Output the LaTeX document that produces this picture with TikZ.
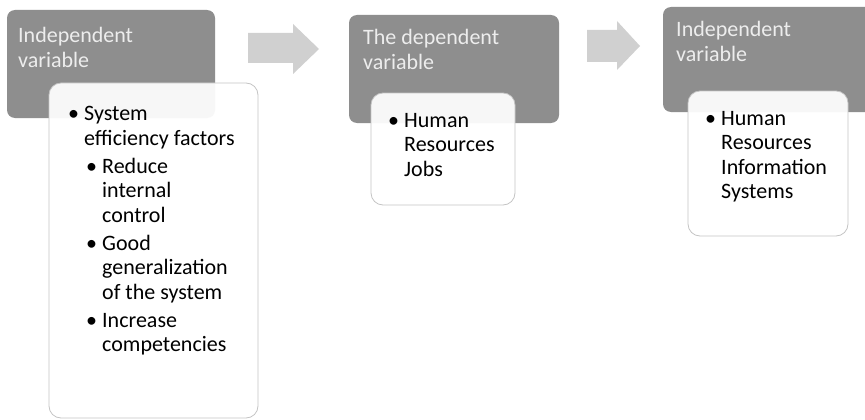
\documentclass[tikz,border=0pt]{standalone}
\usepackage{fontspec}
\setmainfont{Carlito}
\definecolor{boxgray}{HTML}{8E8E8E}
\definecolor{titlecol}{HTML}{EDEDED}
\definecolor{arrowgray}{HTML}{D0D0D0}
\definecolor{edgegray}{HTML}{C4C4C4}
\tikzset{
  graybox/.style={fill=boxgray, rounded corners=8pt},
  whitebox/.style={fill=white, fill opacity=0.93, draw=edgegray, line width=0.8pt, rounded corners=12pt},
  titletext/.style={anchor=base west, inner sep=0pt, text=titlecol, font=\fontsize{22}{24.5}\selectfont},
  bodytext/.style={anchor=base west, inner sep=0pt, text=black, font=\fontsize{22}{24.5}\selectfont},
  blockarrow/.style={fill=arrowgray}
}
\begin{document}
\begin{tikzpicture}[x=1pt,y=-1pt]
\clip (0,0) rectangle (865,420);
\fill[white] (0,0) rectangle (865,420);
% block arrows
\fill[blockarrow] (248,33) -- (293,33) -- (293,24) -- (319,49) -- (293,74) -- (293,63) -- (248,63) -- cycle;
\fill[blockarrow] (587,30) -- (617,30) -- (617,21) -- (640,46) -- (617,70) -- (617,62) -- (587,62) -- cycle;
% gray title boxes
\fill[graybox] (7,10) rectangle (215,118);
\fill[graybox] (349,15) rectangle (559,123);
\fill[graybox] (663,7) rectangle (890,112);
\node[titletext] (t1) at (18,43) {\begin{tabular}[t]{@{}l@{}}Independent\\variable\end{tabular}};
\node[titletext] (t2) at (363,45) {\begin{tabular}[t]{@{}l@{}}The dependent\\variable\end{tabular}};
\node[titletext] (t3) at (676,37) {\begin{tabular}[t]{@{}l@{}}Independent\\variable\end{tabular}};
% white boxes
\path[whitebox] (49,83) rectangle (258,418);
\path[whitebox] (371,93) rectangle (515,205);
\path[whitebox] (688,91) rectangle (848,236);
\node[bodytext] (b1) at (68,121) {\begin{tabular}[t]{@{}l@{}}
\makebox[16pt][l]{\textbullet}System\\
\hspace*{16pt}efficiency factors\\[3.5pt]
\hspace*{18pt}\makebox[16pt][l]{\textbullet}Reduce\\
\hspace*{34pt}internal\\
\hspace*{34pt}control\\[3.5pt]
\hspace*{18pt}\makebox[16pt][l]{\textbullet}Good\\
\hspace*{34pt}generalization\\
\hspace*{34pt}of the system\\[3.5pt]
\hspace*{18pt}\makebox[16pt][l]{\textbullet}Increase\\
\hspace*{34pt}competencies
\end{tabular}};
\node[bodytext] (b2) at (388,127) {\begin{tabular}[t]{@{}l@{}}
\makebox[16pt][l]{\textbullet}Human\\
\hspace*{16pt}Resources\\
\hspace*{16pt}Jobs
\end{tabular}};
\node[bodytext] (b3) at (705,125) {\begin{tabular}[t]{@{}l@{}}
\makebox[16pt][l]{\textbullet}Human\\
\hspace*{16pt}Resources\\
\hspace*{16pt}Information\\
\hspace*{16pt}Systems
\end{tabular}};
\end{tikzpicture}
\end{document}
